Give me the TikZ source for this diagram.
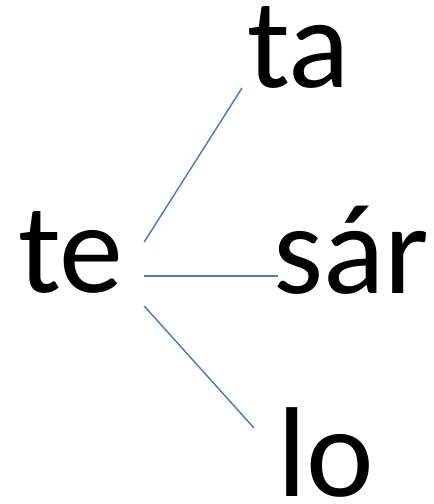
\documentclass[tikz,border=0pt]{standalone}
\usepackage{fontspec}
\setmainfont{Carlito}
\usetikzlibrary{positioning,calc}
\definecolor{linkblue}{HTML}{4A7EBB}

\begin{document}
\begin{tikzpicture}[
  x=0.75pt, y=-0.75pt,
  syl/.style={inner sep=0pt, outer sep=0pt, anchor=base west, font=\fontsize{96}{96}\selectfont},
  link/.style={draw=linkblue, line width=1.1pt}
]
\useasboundingbox (0,0) rectangle (434,504);
\node[syl] (te) at (18,292) {te};
\node[syl] (ta) at (247,87) {ta};
\node[syl] (sar) at (273,293) {sár};
\node[syl] (lo) at (277,496) {lo};

\draw[link] ($(te.base east)+(21,-50)$) -- ($(ta.base west)+(-5,1)$);
\draw[link] ($(te.base east)+(21,-16)$) -- ($(sar.base west)+(5,-17)$);
\draw[link] ($(te.base east)+(21,14)$) -- ($(lo.base west)+(-23,-68)$);
\end{tikzpicture}
\end{document}
